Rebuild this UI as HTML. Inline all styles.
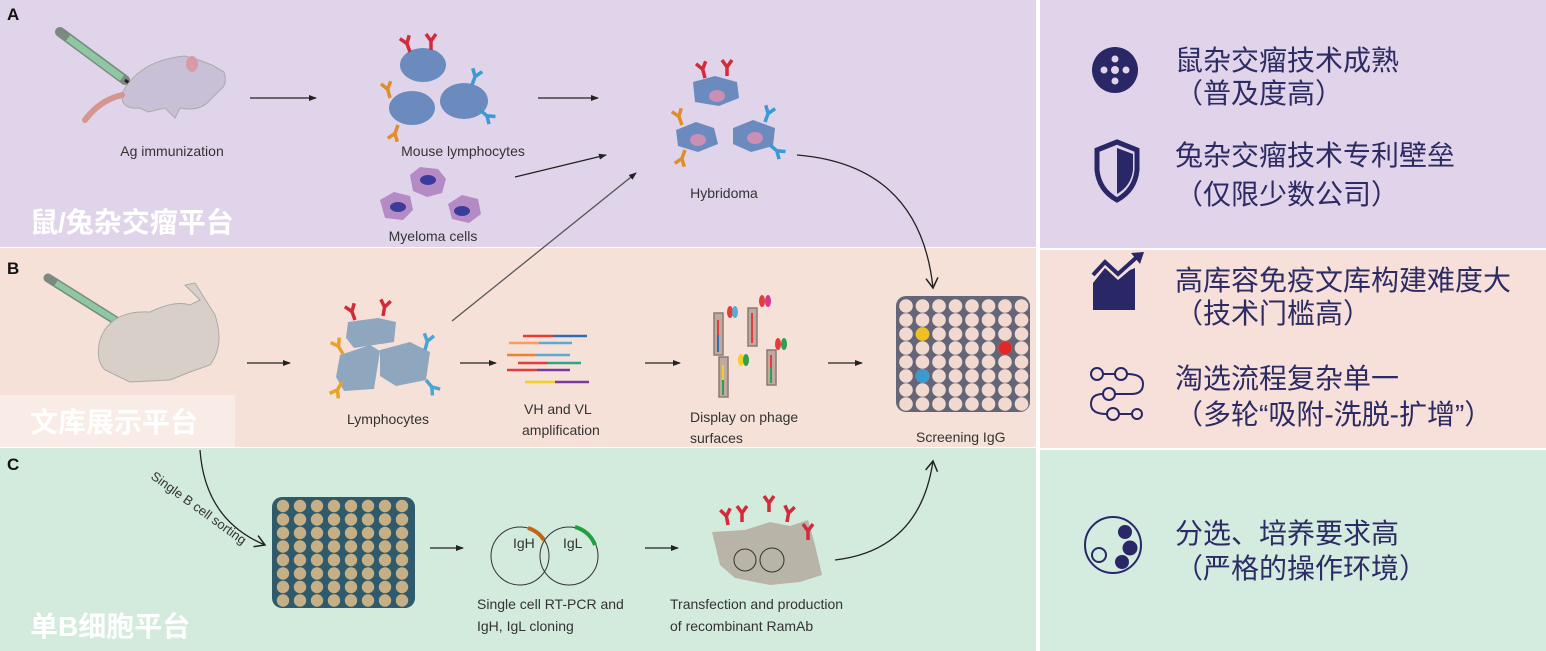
<!DOCTYPE html>
<html><head><meta charset="utf-8"><style>
html,body{margin:0;padding:0;background:#fff;}
svg{display:block;}
text{font-family:"Liberation Sans","Noto Sans CJK SC",sans-serif;}
</style></head><body>
<svg width="1546" height="651" viewBox="0 0 1546 651" xmlns="http://www.w3.org/2000/svg">
<defs>
<marker id="ah" markerWidth="8" markerHeight="8" refX="7" refY="4" orient="auto" markerUnits="userSpaceOnUse"><path d="M0,1 L8,4 L0,7 Z" fill="#222"/></marker>
<marker id="ah2" markerWidth="14" markerHeight="14" refX="11" refY="7" orient="auto" markerUnits="userSpaceOnUse"><path d="M1,1 L11,7 L1,13" fill="none" stroke="#222" stroke-width="1.5"/></marker>
<g id="ab"><path d="M0,0 V-9 L-5,-16 M0,-9 L5,-16" fill="none" stroke-width="3.5"/></g>
</defs>
<rect width="1546" height="651" fill="#fff"/>
<rect x="0" y="0" width="1036" height="247" fill="#e0d4ea"/>
<rect x="0" y="248" width="1036" height="199" fill="#f6e1d9"/>
<rect x="0" y="448" width="1036" height="203" fill="#d3ebdd"/>
<rect x="0" y="395" width="235" height="52" fill="#f9ebe5"/>
<rect x="1040" y="0" width="506" height="248" fill="#e0d3ea"/>
<rect x="1040" y="250" width="506" height="198" fill="#f6e0d9"/>
<rect x="1040" y="450" width="506" height="201" fill="#d3ecdf"/>

<text x="7" y="20" font-size="17" font-weight="bold" fill="#111">A</text>
<text x="7" y="274" font-size="17" font-weight="bold" fill="#111">B</text>
<text x="7" y="470" font-size="17" font-weight="bold" fill="#111">C</text>

<path d="M60,32 L125,80" stroke="#7a8a80" stroke-width="10" stroke-linecap="round"/>
<path d="M68,38 L122,78" stroke="#8fc7a3" stroke-width="7"/>
<path d="M125,80 L133,86" stroke="#222" stroke-width="3"/>
<path d="M122,93 Q140,60 185,56 Q200,60 212,65 L224,72 Q228,85 220,90 L210,100 Q200,112 180,108 L175,118 L165,108 L148,112 L140,108 Q120,110 122,93Z" fill="#c8c0d6" stroke="#aaa" stroke-width="1"/>
<ellipse cx="192" cy="64" rx="6" ry="8" fill="#d99aa8"/>
<path d="M122,95 Q100,100 85,120" stroke="#d4968e" stroke-width="6" fill="none" stroke-linecap="round"/>
<text x="172" y="156" font-size="14" fill="#333" text-anchor="middle">Ag immunization</text>

<line x1="250" y1="98" x2="316" y2="98" stroke="#222" stroke-width="1.3" marker-end="url(#ah)"/>

<ellipse cx="423" cy="65" rx="23" ry="17" fill="#6b8bbf"/>
<ellipse cx="412" cy="108" rx="23" ry="17" fill="#6b8bbf"/>
<ellipse cx="464" cy="101" rx="24" ry="18" fill="#6b8bbf"/>
<use href="#ab" x="410" y="52" stroke="#d42b3a" transform="rotate(-20 410 52)"/>
<use href="#ab" x="431" y="50" stroke="#d42b3a"/>
<use href="#ab" x="390" y="98" stroke="#e08e2a" transform="rotate(-15 390 98)"/>
<use href="#ab" x="398" y="125" stroke="#e08e2a" transform="rotate(200 398 125)"/>
<use href="#ab" x="472" y="85" stroke="#3b9ad6" transform="rotate(20 472 85)"/>
<use href="#ab" x="480" y="110" stroke="#3b9ad6" transform="rotate(130 480 110)"/>
<text x="463" y="156" font-size="14" fill="#333" text-anchor="middle">Mouse lymphocytes</text>
<g fill="#b48bc4"><path d="M410,175 l10,-8 l18,2 l8,10 l-4,14 l-15,4 l-14,-6z"/><path d="M380,200 l14,-8 l16,4 l3,14 l-10,10 l-18,-2z"/><path d="M448,204 l14,-9 l16,4 l3,15 l-12,9 l-17,-4z"/></g>
<g fill="#3b3b9c"><ellipse cx="428" cy="180" rx="8" ry="5"/><ellipse cx="398" cy="207" rx="8" ry="5"/><ellipse cx="462" cy="211" rx="8" ry="5"/></g>
<text x="433" y="241" font-size="14" fill="#333" text-anchor="middle">Myeloma cells</text>

<line x1="538" y1="98" x2="598" y2="98" stroke="#222" stroke-width="1.3" marker-end="url(#ah)"/>
<line x1="515" y1="177" x2="606" y2="155" stroke="#222" stroke-width="1.3" marker-end="url(#ah)"/>
<line x1="452" y1="321" x2="636" y2="173" stroke="#555" stroke-width="1.3" marker-end="url(#ah)"/>

<g fill="#6b8bbf"><path d="M693,82 l22,-6 l22,6 l2,16 l-20,8 l-24,-4z"/><path d="M676,130 l20,-8 l18,6 l4,16 l-20,8 l-20,-6z"/><path d="M733,128 l20,-8 l22,8 l-2,18 l-22,6 l-18,-8z"/></g>
<g fill="#c98fb4"><ellipse cx="717" cy="96" rx="8" ry="6"/><ellipse cx="698" cy="140" rx="8" ry="6"/><ellipse cx="755" cy="138" rx="8" ry="6"/></g>
<use href="#ab" x="705" y="78" stroke="#d42b3a" transform="rotate(-15 705 78)"/>
<use href="#ab" x="727" y="76" stroke="#d42b3a"/>
<use href="#ab" x="682" y="125" stroke="#e08e2a" transform="rotate(-20 682 125)"/>
<use href="#ab" x="685" y="150" stroke="#e08e2a" transform="rotate(200 685 150)"/>
<use href="#ab" x="765" y="122" stroke="#3b9ad6" transform="rotate(20 765 122)"/>
<use href="#ab" x="770" y="145" stroke="#3b9ad6" transform="rotate(130 770 145)"/>
<text x="724" y="198" font-size="14" fill="#333" text-anchor="middle">Hybridoma</text>
<path d="M797,155 Q920,165 933,288" fill="none" stroke="#222" stroke-width="1.3" marker-end="url(#ah2)"/>

<text x="30" y="232" font-size="28" font-weight="bold" fill="#fff">鼠/兔杂交瘤平台</text>

<path d="M48,278 L118,322" stroke="#7a8a80" stroke-width="9" stroke-linecap="round"/>
<path d="M56,283 L115,320" stroke="#8fc7a3" stroke-width="6"/>
<path d="M100,340 Q110,310 150,312 Q175,300 190,305 L200,300 L185,285 L195,283 L215,315 Q225,345 210,365 L190,372 L170,380 L130,382 L105,370 Q95,360 100,340Z" fill="#d8d0c8" stroke="#aaa" stroke-width="1"/>
<text x="30" y="432" font-size="28" font-weight="bold" fill="#fff">文库展示平台</text>

<line x1="247" y1="363" x2="290" y2="363" stroke="#222" stroke-width="1.3" marker-end="url(#ah)"/>
<g fill="#8ea7bf"><path d="M348,322 l30,-4 l18,4 l-2,20 l-40,6 l-8,-10z"/><path d="M340,355 l30,-10 l10,6 l-6,38 l-30,2 l-8,-14z"/><path d="M380,350 l30,-8 l20,10 l-4,28 l-30,6 l-16,-10z"/></g>
<use href="#ab" x="355" y="320" stroke="#d42b3a" transform="rotate(-20 355 320)"/>
<use href="#ab" x="383" y="316" stroke="#d42b3a" transform="rotate(10 383 316)"/>
<use href="#ab" x="343" y="354" stroke="#e8a22a" transform="rotate(-30 343 354)"/>
<use href="#ab" x="342" y="382" stroke="#e8a22a" transform="rotate(210 342 382)"/>
<use href="#ab" x="425" y="350" stroke="#4aa5d6" transform="rotate(15 425 350)"/>
<use href="#ab" x="426" y="380" stroke="#4aa5d6" transform="rotate(140 426 380)"/>
<text x="388" y="424" font-size="14" fill="#333" text-anchor="middle">Lymphocytes</text>

<line x1="460" y1="363" x2="496" y2="363" stroke="#222" stroke-width="1.3" marker-end="url(#ah)"/>
<g stroke-width="2.5">
<line x1="523" y1="336" x2="553" y2="336" stroke="#e53b3b"/><line x1="553" y1="336" x2="587" y2="336" stroke="#2f6db3"/>
<line x1="509" y1="343" x2="539" y2="343" stroke="#f0a060"/><line x1="539" y1="343" x2="572" y2="343" stroke="#5aaad8"/>
<line x1="507" y1="355" x2="536" y2="355" stroke="#f07f30"/><line x1="536" y1="355" x2="570" y2="355" stroke="#5aaad8"/>
<line x1="518" y1="363" x2="548" y2="363" stroke="#e53b3b"/><line x1="548" y1="363" x2="581" y2="363" stroke="#2fa58a"/>
<line x1="507" y1="370" x2="537" y2="370" stroke="#e53b3b"/><line x1="537" y1="370" x2="570" y2="370" stroke="#7b3aa0"/>
<line x1="525" y1="382" x2="555" y2="382" stroke="#f0d020"/><line x1="555" y1="382" x2="589" y2="382" stroke="#7b3aa0"/>
</g>
<text x="524" y="414" font-size="14" fill="#333">VH and VL</text>
<text x="522" y="435" font-size="14" fill="#333">amplification</text>

<line x1="645" y1="363" x2="680" y2="363" stroke="#222" stroke-width="1.3" marker-end="url(#ah)"/>
<g fill="#bfa9a0" stroke="#8a7a74" stroke-width="1.5">
<rect x="714" y="313" width="9" height="42"/><rect x="719" y="357" width="9" height="40"/><rect x="748" y="308" width="9" height="38"/><rect x="767" y="350" width="9" height="35"/></g>
<g stroke-width="2"><line x1="718" y1="320" x2="718" y2="335" stroke="#e53b3b"/><line x1="718" y1="335" x2="718" y2="352" stroke="#2f6db3"/>
<line x1="723" y1="365" x2="723" y2="380" stroke="#f0d020"/><line x1="723" y1="380" x2="723" y2="395" stroke="#2fa050"/>
<line x1="752" y1="313" x2="752" y2="343" stroke="#e53b3b"/>
<line x1="771" y1="355" x2="771" y2="368" stroke="#e53b3b"/><line x1="771" y1="368" x2="771" y2="383" stroke="#2fa050"/></g>
<g><ellipse cx="730" cy="312" rx="3" ry="6" fill="#e53b3b"/><ellipse cx="735" cy="312" rx="3" ry="6" fill="#5aaad8"/>
<ellipse cx="762" cy="301" rx="3" ry="6" fill="#e53b3b"/><ellipse cx="768" cy="301" rx="3" ry="6" fill="#d43a8a"/>
<ellipse cx="741" cy="360" rx="3" ry="6" fill="#f0d020"/><ellipse cx="746" cy="360" rx="3" ry="6" fill="#2fa050"/>
<ellipse cx="778" cy="344" rx="3" ry="6" fill="#e53b3b"/><ellipse cx="784" cy="344" rx="3" ry="6" fill="#2fa050"/></g>
<text x="690" y="422" font-size="14" fill="#333">Display on phage</text>
<text x="690" y="443" font-size="14" fill="#333">surfaces</text>

<line x1="828" y1="363" x2="862" y2="363" stroke="#222" stroke-width="1.3" marker-end="url(#ah)"/>
<rect x="896" y="296" width="134" height="116" rx="10" fill="#646678"/>
<g fill="#f1d9cf" id="pl">
<circle cx="906" cy="306" r="6.8"/><circle cx="922.5" cy="306" r="6.8"/><circle cx="939" cy="306" r="6.8"/><circle cx="955.5" cy="306" r="6.8"/><circle cx="972" cy="306" r="6.8"/><circle cx="988.5" cy="306" r="6.8"/><circle cx="1005" cy="306" r="6.8"/><circle cx="1021.5" cy="306" r="6.8"/>
</g>
<use href="#pl" y="14"/><use href="#pl" y="28"/><use href="#pl" y="42"/><use href="#pl" y="56"/><use href="#pl" y="70"/><use href="#pl" y="84"/><use href="#pl" y="98"/>
<circle cx="922.5" cy="334" r="6.8" fill="#f0c020"/>
<circle cx="1005" cy="348" r="6.8" fill="#e02828"/>
<circle cx="922.5" cy="376" r="6.8" fill="#3a9ad0"/>
<text x="916" y="442" font-size="14" fill="#333">Screening IgG</text>

<path d="M200,450 Q205,520 265,545" fill="none" stroke="#222" stroke-width="1.3" marker-end="url(#ah2)"/>
<text x="0" y="0" font-size="13" fill="#333" transform="translate(150,478) rotate(36)">Single B cell sorting</text>
<rect x="272" y="497" width="143" height="111" rx="10" fill="#2e5a6b"/>
<g fill="#c6ae85" id="pl2">
<circle cx="283" cy="506" r="6.2"/><circle cx="300" cy="506" r="6.2"/><circle cx="317" cy="506" r="6.2"/><circle cx="334" cy="506" r="6.2"/><circle cx="351" cy="506" r="6.2"/><circle cx="368" cy="506" r="6.2"/><circle cx="385" cy="506" r="6.2"/><circle cx="402" cy="506" r="6.2"/>
</g>
<use href="#pl2" y="13.5"/><use href="#pl2" y="27"/><use href="#pl2" y="40.5"/><use href="#pl2" y="54"/><use href="#pl2" y="67.5"/><use href="#pl2" y="81"/><use href="#pl2" y="94.5"/>
<text x="30" y="636" font-size="28" font-weight="bold" fill="#fff">单B细胞平台</text>

<line x1="430" y1="548" x2="463" y2="548" stroke="#222" stroke-width="1.3" marker-end="url(#ah)"/>
<circle cx="520" cy="556" r="29" fill="none" stroke="#333" stroke-width="1"/>
<circle cx="569" cy="556" r="29" fill="none" stroke="#333" stroke-width="1"/>
<path d="M528,528 A29,29 0 0 1 544,540" fill="none" stroke="#c0661a" stroke-width="4"/>
<path d="M575,527 A29,29 0 0 1 595,545" fill="none" stroke="#22a040" stroke-width="4"/>
<text x="513" y="548" font-size="14" fill="#333">IgH</text>
<text x="563" y="548" font-size="14" fill="#333">IgL</text>
<text x="477" y="609" font-size="14" fill="#333">Single cell RT-PCR and</text>
<text x="477" y="631" font-size="14" fill="#333">IgH, IgL cloning</text>

<line x1="645" y1="548" x2="678" y2="548" stroke="#222" stroke-width="1.3" marker-end="url(#ah)"/>
<path d="M712,532 L745,530 L770,522 L790,526 L808,520 L815,545 L822,575 L800,582 L770,585 L735,578 L720,565Z" fill="#b8b4a8"/>
<circle cx="745" cy="560" r="11" fill="none" stroke="#333"/><circle cx="772" cy="560" r="12" fill="none" stroke="#333"/>
<g stroke="#d42b3a"><use href="#ab" x="728" y="525" transform="rotate(-10 728 525)"/><use href="#ab" x="742" y="522"/><use href="#ab" x="769" y="512"/><use href="#ab" x="787" y="522" transform="rotate(10 787 522)"/><use href="#ab" x="808" y="540"/></g>
<text x="670" y="609" font-size="14" fill="#333">Transfection and production</text>
<text x="670" y="631" font-size="14" fill="#333">of recombinant RamAb</text>
<path d="M835,560 Q920,550 933,461" fill="none" stroke="#222" stroke-width="1.3" marker-end="url(#ah2)"/>

<g fill="#2a2766">
<circle cx="1115" cy="70" r="23"/>
<g fill="#e0d3ea"><circle cx="1115" cy="70" r="4"/><circle cx="1115" cy="59" r="3.5"/><circle cx="1115" cy="81" r="3.5"/><circle cx="1104" cy="70" r="3.5"/><circle cx="1126" cy="70" r="3.5"/></g>
<path d="M1097,150 L1117,142 L1137,150 L1137,170 Q1135,190 1117,200 Q1099,190 1097,170Z" fill="none" stroke="#2a2766" stroke-width="5"/>
<path d="M1117,148 L1133,154 L1133,170 Q1131,186 1117,194Z"/>
<path d="M1093,283 L1105,268 L1118,280 L1130,270 L1135,268 L1135,310 L1093,310Z"/>
<path d="M1093,275 L1105,262 L1118,274 L1138,256" fill="none" stroke="#2a2766" stroke-width="4"/>
<path d="M1131,253 L1144,252 L1140,264Z"/>
</g>
<g fill="none" stroke="#2a2766" stroke-width="2">
<circle cx="1097" cy="374" r="6"/><circle cx="1121" cy="374" r="6"/><circle cx="1109" cy="394" r="6"/><circle cx="1113" cy="414" r="6"/><circle cx="1137" cy="414" r="5"/>
<path d="M1103,374 H1115 M1127,374 Q1143,374 1143,384 Q1143,394 1131,394 H1115 M1103,394 Q1091,394 1091,404 Q1091,414 1107,414 M1119,414 H1132"/>
<circle cx="1113" cy="545" r="28"/><circle cx="1099" cy="555" r="7"/>
</g>
<g fill="#2a2766"><circle cx="1125" cy="532" r="7"/><circle cx="1130" cy="548" r="7.5"/><circle cx="1122" cy="562" r="7"/></g>
<g font-size="28" fill="#2d2b63">
<text x="1175" y="70">鼠杂交瘤技术成熟</text>
<text x="1175" y="103">（普及度高）</text>
<text x="1175" y="165">兔杂交瘤技术专利壁垒</text>
<text x="1175" y="204">（仅限少数公司）</text>
<text x="1175" y="290">高库容免疫文库构建难度大</text>
<text x="1175" y="323">（技术门槛高）</text>
<text x="1175" y="388">淘选流程复杂单一</text>
<text x="1175" y="424">（多轮“吸附-洗脱-扩增”）</text>
<text x="1175" y="543">分选、培养要求高</text>
<text x="1175" y="578">（严格的操作环境）</text>
</g>
</svg>
</body></html>
